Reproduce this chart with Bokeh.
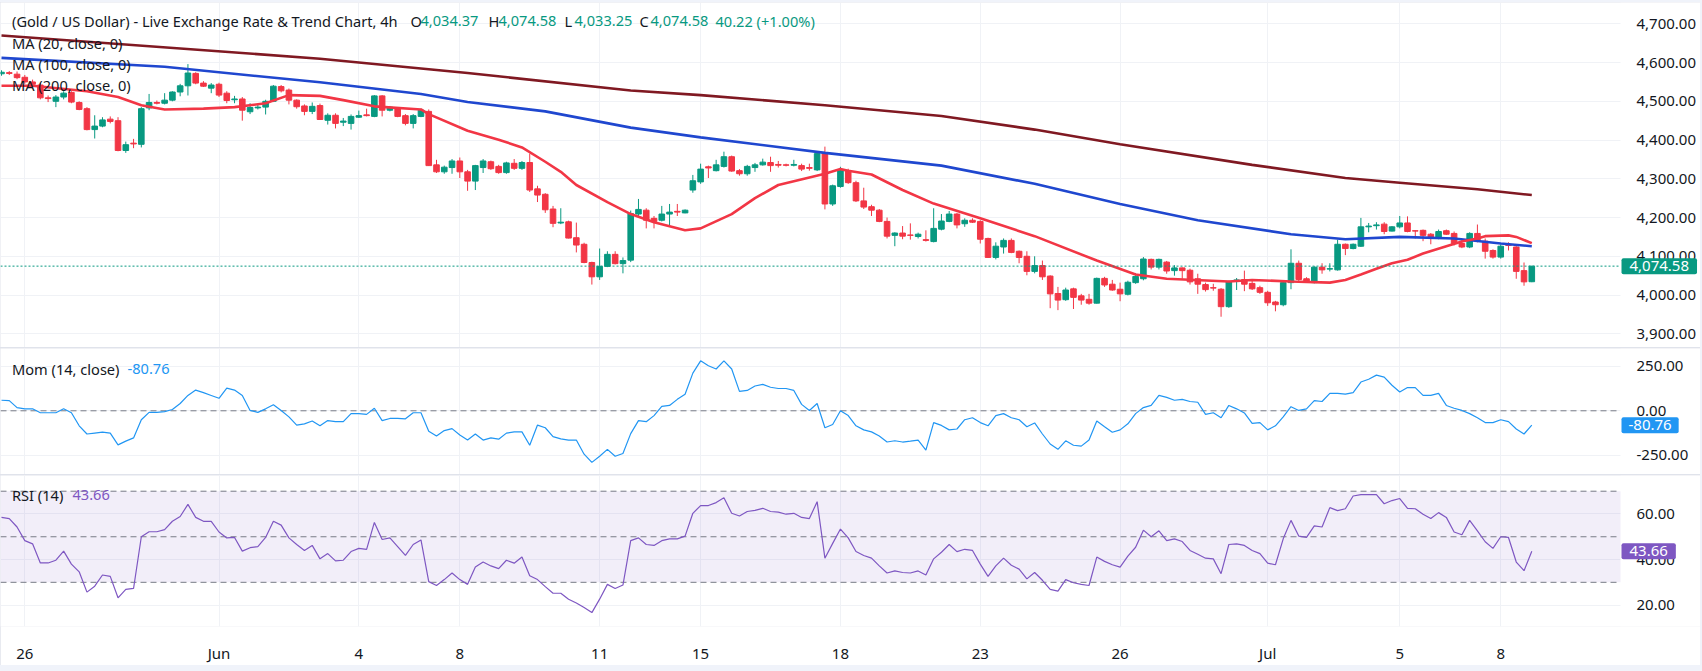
from bokeh.plotting import figure
from bokeh.layouts import column
from bokeh.models import Range1d, FixedTicker, Label, BoxAnnotation, NumeralTickFormatter, ColumnDataSource
from bokeh.embed import file_html
from bokeh.resources import INLINE

# ---------------- data (4h bars, index-based x axis) ----------------
opens = [4571,4574,4570,4562,4550,4542,4509,4500,4511,4523,
         4497,4481,4427,4436,4454,4450,4373,4392,4389,4483,
         4497,4495,4503,4524,4540,4572,4547,4534,4544,4521,
         4504,4506,4473,4483,4485,4500,4538,4529,4503,4488,
         4474,4489,4451,4464,4446,4443,4459,4465,4461,4514,
         4477,4480,4463,4443,4461,4474,4336,4318,4329,4346,
         4318,4294,4329,4344,4332,4316,4340,4327,4342,4274,
         4260,4222,4186,4189,4148,4131,4084,4047,4074,4105,
         4081,4090,4209,4219,4198,4193,4209,4216,4212,4271,
         4292,4331,4321,4332,4357,4321,4313,4329,4336,4342,
         4337,4336,4335,4334,4329,4323,4365,4235,4280,4321,
         4290,4243,4228,4219,4190,4154,4160,4155,4151,4143,
         4138,4170,4190,4209,4184,4193,4190,4146,4097,4124,
         4141,4113,4100,4061,4076,4049,4004,3988,4016,3998,
         3989,3979,4043,4028,4015,4002,4032,4042,4092,4072,
         4085,4063,4070,4064,4042,4027,4019,4015,3970,4037,
         4040,4030,4019,4007,3982,3975,4032,4082,4042,4032,
         4072,4067,4065,4131,4120,4126,4176,4179,4183,4165,
         4176,4186,4166,4167,4157,4146,4166,4159,4133,4124,
         4159,4139,4115,4098,4130,4124,4063,4034.37]
highs = [4580,4578,4577,4568,4556,4547,4515,4516,4526,4526,
         4500,4485,4464,4459,4461,4459,4396,4403,4485,4519,
         4502,4521,4526,4545,4596,4575,4552,4547,4548,4526,
         4514,4511,4495,4492,4504,4542,4542,4533,4505,4492,
         4497,4494,4469,4469,4457,4466,4476,4481,4516,4516,
         4488,4485,4467,4467,4481,4479,4349,4334,4351,4355,
         4323,4336,4351,4347,4336,4344,4351,4346,4365,4282,
         4263,4230,4224,4192,4187,4135,4086,4120,4113,4113,
         4097,4218,4248,4224,4204,4230,4235,4235,4221,4310,
         4339,4334,4349,4370,4360,4325,4336,4341,4352,4357,
         4346,4339,4349,4339,4339,4367,4383,4285,4331,4326,
         4295,4277,4233,4222,4200,4162,4178,4185,4161,4167,
         4224,4209,4217,4212,4198,4198,4193,4148,4136,4146,
         4146,4115,4113,4100,4089,4051,4021,4019,4019,4003,
         4003,4045,4047,4039,4032,4037,4057,4098,4094,4094,
         4088,4077,4071,4068,4055,4032,4029,4018,4037,4044,
         4063,4037,4024,4011,3985,4035,4118,4089,4046,4074,
         4082,4082,4143,4133,4133,4199,4186,4188,4188,4178,
         4204,4203,4167,4169,4160,4169,4169,4164,4144,4162,
         4182,4146,4118,4131,4136,4126,4084,4074.58]
lows = [4566,4568,4557,4545,4538,4505,4498,4485,4505,4495,
        4477,4425,4404,4433,4443,4371,4367,4379,4381,4477,
        4492,4492,4500,4513,4515,4544,4537,4521,4511,4495,
        4495,4450,4467,4479,4466,4498,4523,4492,4481,4464,
        4467,4452,4440,4430,4436,4427,4457,4461,4459,4461,
        4474,4459,4438,4430,4459,4333,4315,4313,4313,4302,
        4269,4271,4315,4323,4313,4313,4323,4323,4266,4240,
        4212,4175,4183,4146,4110,4082,4027,4039,4072,4079,
        4056,4085,4204,4172,4172,4190,4180,4204,4211,4264,
        4287,4302,4319,4329,4318,4308,4308,4318,4334,4318,
        4329,4332,4332,4320,4321,4320,4221,4230,4277,4287,
        4240,4222,4204,4188,4146,4126,4144,4143,4146,4138,
        4136,4167,4188,4172,4176,4186,4133,4096,4092,4107,
        4108,4082,4051,4056,4039,3966,3961,3985,3964,3975,
        3975,3978,4021,4011,3984,3999,4029,4038,4066,4066,
        4055,4050,4042,4027,4003,4009,4011,3944,3967,4013,
        4010,4013,4003,3972,3958,3971,4015,4035,4032,4030,
        4055,4061,4063,4103,4118,4124,4162,4169,4157,4164,
        4172,4162,4146,4139,4131,4144,4155,4128,4121,4121,
        4136,4094,4094,4094,4115,4042,4024,4033.25]
closes = [4575,4572,4561,4550,4544,4509,4507,4511,4521,4498,
          4479,4427,4436,4452,4448,4373,4388,4390,4481,4497,
          4495,4503,4524,4540,4573,4547,4539,4542,4516,4502,
          4506,4477,4484,4485,4500,4539,4527,4503,4486,4474,
          4487,4453,4464,4443,4449,4461,4463,4463,4514,4477,
          4485,4461,4443,4463,4477,4334,4318,4330,4346,4318,
          4294,4334,4346,4326,4316,4341,4327,4342,4271,4258,
          4220,4185,4188,4147,4129,4084,4047,4074,4105,4081,
          4089,4210,4221,4193,4190,4209,4214,4214,4219,4295,
          4325,4328,4336,4357,4320,4313,4332,4336,4343,4334,
          4335,4335,4337,4325,4327,4365,4235,4282,4321,4290,
          4243,4227,4219,4190,4152,4160,4152,4154,4157,4141,
          4172,4191,4209,4181,4193,4188,4144,4097,4126,4141,
          4110,4097,4061,4076,4047,4003,3987,4013,3994,3987,
          3979,4043,4026,4013,4003,4033,4048,4093,4072,4092,
          4062,4070,4063,4034,4028,4014,4018,3970,4034,4039,
          4028,4016,4007,3980,3975,4032,4082,4040,4034,4072,
          4065,4068,4131,4120,4131,4176,4178,4181,4164,4176,
          4186,4164,4165,4154,4146,4164,4157,4133,4124,4159,
          4139,4113,4098,4126,4128,4061,4034,4074.58]

momentum = [59,57,18,11,11,-11,-11,-11,11,-11,
            -84,-130,-125,-120,-125,-191,-170,-152,-50,-9,
            -9,-5,7,41,86,116,102,86,70,127,
            116,86,2,-9,11,34,2,-34,-80,-73,
            -57,-84,-55,-61,-61,-16,-16,-20,14,-55,
            -43,-43,-45,-11,-11,-114,-141,-111,-100,-136,
            -164,-130,-164,-152,-159,-125,-118,-118,-193,-80,
            -95,-145,-157,-164,-164,-243,-289,-255,-216,-255,
            -239,-128,-55,-61,-27,25,30,64,93,211,
            280,252,234,280,234,109,114,139,148,132,
            125,125,114,36,2,41,-95,-77,0,-27,
            -84,-107,-118,-141,-175,-168,-175,-170,-164,-220,
            -66,-82,-107,-102,-50,-39,-66,-84,-27,-16,
            -39,-50,-89,-68,-130,-186,-216,-168,-193,-198,
            -164,-57,-89,-120,-107,-73,-16,18,30,86,
            75,59,64,52,48,-20,-11,-39,30,11,
            -12,-70,-66,-107,-84,-34,23,2,11,57,
            52,98,98,93,102,161,177,200,189,143,
            105,130,130,86,86,98,30,14,2,-16,
            -39,-66,-66,-50,-61,-102,-130,-80.76]
rsi = [58.5,58.0,54.3,48.3,46.9,38.5,38.5,39.7,43.7,38.0,
       34.6,25.7,28.3,33.2,32.6,23.2,26.9,27.3,50.0,52.2,
       52.2,53.1,56.8,58.9,64.2,58.5,56.8,56.8,52.1,49.5,
       49.7,43.7,45.2,45.7,49.7,56.8,55.1,49.5,46.6,44.0,
       46.2,40.3,42.6,39.4,39.7,43.5,44.9,44.5,56.3,48.8,
       49.5,45.7,41.8,46.6,48.6,30.3,28.6,31.2,34.1,31.2,
       29.1,36.7,38.9,37.2,36.0,39.7,38.4,41.1,32.9,31.2,
       28.1,25.2,25.2,22.6,20.9,18.9,16.7,22.6,29.1,27.3,
       28.8,48.3,49.5,46.6,46.2,48.3,49.1,49.1,50.3,60.3,
       63.7,63.7,65.0,67.1,60.3,59.1,61.1,61.6,62.5,61.1,
       60.8,59.9,60.3,58.5,58.0,65.4,40.6,47.1,53.4,49.5,
       43.5,41.8,40.6,37.2,34.1,35.0,34.3,34.1,35.0,33.2,
       40.3,43.2,46.6,43.5,44.5,44.0,38.0,32.6,37.2,40.6,
       37.5,35.8,31.5,34.3,30.9,26.9,26.1,31.2,29.8,29.1,
       28.6,41.1,39.2,37.7,36.7,41.5,45.4,52.9,50.0,52.6,
       48.3,49.1,47.9,44.0,42.3,40.6,40.3,33.8,46.6,46.9,
       46.2,44.0,42.6,38.4,37.7,49.1,57.2,50.3,49.7,54.8,
       54.3,62.8,61.5,62.3,67.9,68.5,68.5,68.5,64.5,65.9,
       66.8,62.5,62.3,59.9,58.0,60.6,58.5,52.1,50.9,57.2,
       52.6,47.8,44.9,50.0,49.7,38.9,35.1,43.66]

# moving averages read at sample bars
ma20_idx = [0,4,11,15,18,21,26,30,34,37,41,44,48,54,55,60,64,67,70,72,74,78,81,84,88,90,94,97,100,106,108,109,112,116,120,126,133,141,146,150,158,161,166,171,173,175,177,179,181,183,186,188,190,191,194,195,197]
ma20_val = [4540,4540,4526,4511,4490,4479,4481,4485,4495,4516,4514,4503,4487,4479,4467,4424,4401,4381,4344,4318,4284,4240,4209,4188,4167,4172,4209,4250,4284,4313,4325,4321,4311,4271,4236,4198,4152,4089,4053,4042,4035,4039,4035,4032,4039,4053,4068,4082,4091,4107,4126,4138,4146,4152,4154,4150,4134]
ma100_idx = [0,21,41,54,60,70,81,90,106,121,133,144,154,166,173,180,187,193,197]
ma100_val = [4612,4589,4549,4519,4498,4474,4432,4407,4367,4334,4287,4235,4193,4157,4144,4150,4146,4133,4126]
ma200_idx = [0,41,60,81,90,106,121,133,144,161,173,180,190,197]
ma200_val = [4670,4610,4573,4528,4516,4490,4462,4427,4389,4336,4302,4290,4273,4258]

tick_idx = [3, 28, 46, 59, 77, 90, 108, 126, 144, 163, 180, 193]
tick_lbl = ["26", "Jun", "4", "8", "11", "15", "18", "23", "26", "Jul", "5", "8"]

price_ticks = [3900, 4000, 4100, 4200, 4300, 4400, 4500, 4600, 4700]
mom_ticks = [-250, 0, 250]
rsi_ticks = [20, 40, 60]
rsi_levels = [30, 50, 70]

# ---------------- styling / geometry ----------------
UP, DOWN = "#089981", "#F23645"
TXT = "#131722"
GRID = "#F0F2F6"
DASH = "#787B86"
FONT = "Noto Sans"
W = 1700
PX_PER_BAR = 7.768
BAR0_PX = 1.0


def sx(px):
    return (px - BAR0_PX) / PX_PER_BAR

X0, XE = sx(0), sx(W)
AX = sx(1620)          # right edge of the plotting area / price scale position


def make_fig(height, yr, xaxis=False, bottom=0):
    f = figure(width=W, height=height, x_range=Range1d(X0, XE), y_range=Range1d(*yr),
               y_axis_location="right", x_axis_location="below" if xaxis else None,
               output_backend="svg", toolbar_location=None, tools="",
               min_border_left=0, min_border_right=0, min_border_top=0,
               min_border_bottom=bottom, outline_line_color=None,
               background_fill_color="white", border_fill_color="white")
    ax = f.yaxis[0]
    ax.fixed_location = AX
    ax.axis_line_color = None
    ax.major_tick_line_color = None
    ax.minor_tick_line_color = None
    ax.major_label_standoff = 10
    ax.major_label_text_font = FONT
    ax.major_label_text_font_size = "15px"
    ax.major_label_text_color = TXT
    f.ygrid.grid_line_color = GRID
    f.xgrid.grid_line_color = GRID
    f.xgrid.ticker = FixedTicker(ticks=tick_idx)
    # keep the price-scale strip free of grid lines
    f.add_layout(BoxAnnotation(left=AX, fill_color="white", fill_alpha=1.0,
                               line_color=None, level="underlay"))
    return f


def lab(f, px, y, text, color=TXT, size="14.6px", **kw):
    f.add_layout(Label(x=sx(px), y=y, text=text, text_color=color, text_font=FONT,
                       text_font_size=size, text_baseline="middle", text_align="left", **kw))


def value_tag(f, y, text, bg, pad_lr):
    lab(f, 1621, y, text, "white", "15px", background_fill_color=bg,
        padding=dict(left=pad_lr, right=pad_lr, top=3, bottom=3), border_radius=2)


def hline(f, y, color, dash, width=1):
    f.segment(x0=[X0], y0=[y], x1=[AX], y1=[y], line_color=color, line_dash=dash, line_width=width)

# ---- main price panel ----
Y1T, Y1B = 4755.0, 3864.6
H1 = 345
f1 = make_fig(H1, (Y1B, Y1T))
f1.yaxis.ticker = FixedTicker(ticks=price_ticks)
f1.yaxis.formatter = NumeralTickFormatter(format="0,0.00")

idx = list(range(len(closes)))
cols = [UP if c >= o else DOWN for o, c in zip(opens, closes)]
src = ColumnDataSource(dict(x=idx, o=opens, h=highs, l=lows, c=closes,
                            top=[max(o, c) for o, c in zip(opens, closes)],
                            bot=[min(o, c) for o, c in zip(opens, closes)], col=cols))
f1.segment(x0="x", y0="l", x1="x", y1="h", color="col", line_width=1, source=src)
f1.vbar(x="x", width=0.72, top="top", bottom="bot", fill_color="col", line_color="col",
        line_width=1, source=src)

f1.line(ma200_idx, ma200_val, line_color="#801922", line_width=2.6)
f1.line(ma100_idx, ma100_val, line_color="#1F47CF", line_width=2.6)
f1.line(ma20_idx, ma20_val, line_color="#F23645", line_width=2.6)

hline(f1, closes[-1], UP, "2 2")


def y1(py):
    return Y1T - (py - 2) * (Y1T - Y1B) / H1

lab(f1, 11.5, y1(20.5), "(Gold / US Dollar) - Live Exchange Rate & Trend Chart, 4h")
lab(f1, 410, y1(20.5), "O")
lab(f1, 420, y1(20.5), "4,034.37", UP)
lab(f1, 488, y1(20.5), "H")
lab(f1, 498, y1(20.5), "4,074.58", UP)
lab(f1, 564, y1(20.5), "L")
lab(f1, 574, y1(20.5), "4,033.25", UP)
lab(f1, 639, y1(20.5), "C")
lab(f1, 650, y1(20.5), "4,074.58", UP)
lab(f1, 715, y1(20.5), "40.22 (+1.00%)", UP)
lab(f1, 11.5, y1(42), "MA (20, close, 0)")
lab(f1, 11.5, y1(63), "MA (100, close, 0)")
lab(f1, 11.5, y1(84), "MA (200, close, 0)")
value_tag(f1, closes[-1], "4,074.58", UP, 8)

# ---- momentum panel ----
Y2T, Y2B = 349.0, -356.9
H2 = 126
f2 = make_fig(H2, (Y2B, Y2T))
f2.yaxis.ticker = FixedTicker(ticks=mom_ticks)
f2.yaxis.formatter = NumeralTickFormatter(format="0.00")
hline(f2, 0, DASH, "6 4")
f2.line(idx, momentum, line_color="#2196F3", line_width=1.2)


def y2(py):
    return Y2T - (py - 348) * (Y2T - Y2B) / H2

lab(f2, 11.5, y2(368), "Mom (14, close)")
lab(f2, 127, y2(368), "-80.76", "#2196F3")
value_tag(f2, momentum[-1], "-80.76", "#2196F3", 7)

# ---- RSI panel ----
Y3T, Y3B = 76.9, 10.6
H3F = 157
f3 = make_fig(H3F + 33, (Y3B, Y3T), xaxis=True, bottom=33)
f3.yaxis.ticker = FixedTicker(ticks=rsi_ticks)
f3.yaxis.formatter = NumeralTickFormatter(format="0.00")
f3.add_layout(BoxAnnotation(bottom=rsi_levels[0], top=rsi_levels[-1], right=AX,
                            fill_color="#7E57C2", fill_alpha=0.1, line_color=None, level="underlay"))
for lv in rsi_levels:
    hline(f3, lv, DASH, "6 4")
f3.line(idx, rsi, line_color="#7E57C2", line_width=1.2)
xa = f3.xaxis[0]
xa.ticker = FixedTicker(ticks=tick_idx)
xa.major_label_overrides = {t: s for t, s in zip(tick_idx, tick_lbl)}
xa.axis_line_color = None
xa.major_tick_line_color = None
xa.minor_tick_line_color = None
xa.major_label_standoff = 10
xa.major_label_text_font = FONT
xa.major_label_text_font_size = "15px"
xa.major_label_text_color = TXT


def y3(py):
    return Y3T - (py - 475) * (Y3T - Y3B) / H3F

lab(f3, 11.5, y3(495), "RSI (14)")
lab(f3, 72, y3(495), "43.66", "#7E57C2")
value_tag(f3, rsi[-1], "43.66", "#7E57C2", 8)

inner = column(f1, f2, f3, spacing=1, styles={"background-color": "#E0E3EB"})
page = column(inner, styles={"background-color": "#F0F3FA", "padding": "2px 2px 6px 0px"})

open("out.html", "w").write(file_html(page, INLINE))
